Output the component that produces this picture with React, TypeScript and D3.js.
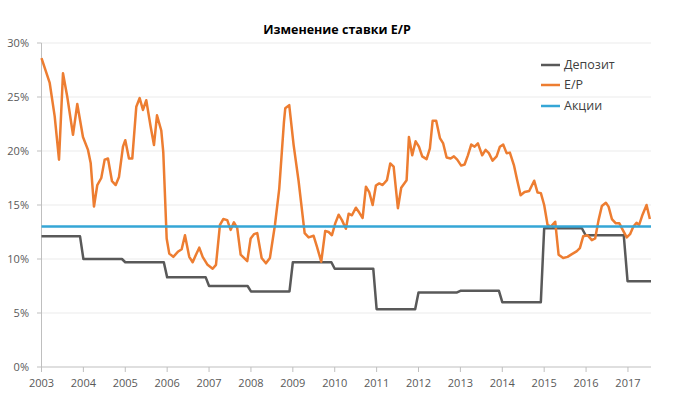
import React from "react";
import * as d3 from "d3";

// ---- data ----
const title = "Изменение ставки Е/Р";
const seriesNames = ["Депозит", "Е/Р", "Акции"];
const yTicks = [0, 5, 10, 15, 20, 25, 30];
const xYears = [2003, 2004, 2005, 2006, 2007, 2008, 2009, 2010, 2011, 2012, 2013, 2014, 2015, 2016, 2017];

// E/P (decimal year, %)
const epDates = [
  2003.0, 2003.196, 2003.315, 2003.418, 2003.513, 2003.616, 2003.752, 2003.854, 2003.99, 2004.11,
  2004.174, 2004.253, 2004.332, 2004.427, 2004.508, 2004.587, 2004.683, 2004.771, 2004.85, 2004.945,
  2005.0, 2005.088, 2005.167, 2005.263, 2005.344, 2005.422, 2005.501, 2005.606, 2005.685, 2005.757,
  2005.859, 2005.907, 2005.988, 2006.05, 2006.146, 2006.265, 2006.346, 2006.425, 2006.527, 2006.609,
  2006.687, 2006.766, 2006.847, 2006.957, 2007.086, 2007.165, 2007.26, 2007.339, 2007.434, 2007.516,
  2007.594, 2007.673, 2007.754, 2007.833, 2007.912, 2007.993, 2008.072, 2008.15, 2008.255, 2008.358,
  2008.453, 2008.573, 2008.675, 2008.788, 2008.819, 2008.914, 2009.019, 2009.138, 2009.282, 2009.377,
  2009.496, 2009.575, 2009.678, 2009.773, 2009.854, 2009.933, 2010.012, 2010.093, 2010.172, 2010.267,
  2010.332, 2010.411, 2010.506, 2010.585, 2010.666, 2010.745, 2010.823, 2010.905, 2010.983, 2011.062,
  2011.143, 2011.246, 2011.325, 2011.406, 2011.508, 2011.587, 2011.716, 2011.771, 2011.85, 2011.931,
  2012.01, 2012.088, 2012.193, 2012.272, 2012.337, 2012.422, 2012.511, 2012.589, 2012.671, 2012.766,
  2012.845, 2012.924, 2013.019, 2013.1, 2013.179, 2013.258, 2013.339, 2013.418, 2013.52, 2013.601,
  2013.68, 2013.768, 2013.864, 2013.943, 2014.021, 2014.103, 2014.181, 2014.277, 2014.356, 2014.437,
  2014.532, 2014.642, 2014.761, 2014.842, 2014.921, 2015.0, 2015.081, 2015.16, 2015.263, 2015.344,
  2015.453, 2015.558, 2015.661, 2015.773, 2015.852, 2015.931, 2016.036, 2016.138, 2016.217, 2016.298,
  2016.377, 2016.473, 2016.537, 2016.616, 2016.711, 2016.795, 2016.875, 2016.971, 2017.05, 2017.129,
  2017.205, 2017.267, 2017.348, 2017.444, 2017.523,
];
const epValues = [
  28.6, 26.3, 23.2, 19.2, 27.2, 25.0, 21.5, 24.35, 21.3, 20.1,
  18.9, 14.85, 16.85, 17.5, 19.2, 19.3, 17.2, 16.85, 17.6, 20.4,
  21.0, 19.3, 19.3, 24.1, 24.9, 23.8, 24.7, 22.25, 20.55, 23.3,
  21.9, 19.9, 11.9, 10.5, 10.2, 10.7, 10.9, 12.2, 10.2, 9.7,
  10.4, 11.05, 10.2, 9.5, 9.1, 9.45, 13.15, 13.7, 13.6, 12.7,
  13.4, 12.85, 10.4, 10.1, 9.8, 11.9, 12.3, 12.4, 10.1, 9.6,
  10.1, 13.15, 16.5, 22.7, 23.95, 24.25, 20.55, 17.2, 12.4, 12.0,
  12.15, 11.15, 9.75, 12.6, 12.5, 12.2, 13.3, 14.1, 13.6, 12.8,
  14.2, 14.05, 14.75, 14.3, 13.8, 16.7, 16.2, 15.0, 16.8, 17.0,
  16.85, 17.3, 18.85, 18.55, 14.7, 16.6, 17.3, 21.3, 19.6, 20.9,
  20.4, 19.5, 19.25, 20.25, 22.8, 22.8, 21.2, 20.7, 19.4, 19.3,
  19.5, 19.2, 18.65, 18.75, 19.6, 20.6, 20.4, 20.7, 19.6, 20.1,
  19.8, 19.1, 19.5, 20.4, 20.6, 19.8, 19.85, 18.7, 17.3, 15.9,
  16.2, 16.3, 17.25, 16.15, 16.1, 15.0, 13.15, 13.0, 13.45, 10.4,
  10.1, 10.2, 10.45, 10.7, 11.0, 12.1, 12.2, 11.75, 11.9, 13.6,
  14.9, 15.2, 14.85, 13.7, 13.3, 13.3, 12.7, 12.0, 12.3, 13.0,
  13.35, 13.15, 14.1, 15.0, 13.7,
];

// Deposit rate (vertices of the step line)
const depDates = [
  2003.0, 2003.92, 2004.0, 2004.92, 2005.0, 2005.92, 2006.0, 2006.92, 2007.0, 2007.92,
  2008.0, 2008.92, 2009.0, 2009.92, 2010.0, 2010.92, 2011.0, 2011.92, 2012.0, 2012.92,
  2013.0, 2013.92, 2014.0, 2014.92, 2015.0, 2015.9, 2015.99, 2016.9, 2016.99, 2017.55,
];
const depValues = [
  12.1, 12.1, 10.0, 10.0, 9.7, 9.7, 8.3, 8.3, 7.5, 7.5,
  7.0, 7.0, 9.7, 9.7, 9.1, 9.1, 5.35, 5.35, 6.9, 6.9,
  7.05, 7.05, 6.0, 6.0, 12.85, 12.85, 12.2, 12.2, 7.95, 7.95,
];

// Stocks (constant)
const stockDates = [2003.0, 2017.55];
const stockValues = [13.0, 13.0];

const colors = ["#595959", "#ED7D31", "#35A6D6"];

const W = 674;
const H = 397;
const FONT = "'Open Sans', 'DejaVu Sans', sans-serif";

export default function App() {
  const x = d3.scaleLinear().domain([2003, 2017.55]).range([41.5, 651]);
  const y = d3.scaleLinear().domain([0, 30]).range([367, 43]);

  const line = d3
    .line<[number, number]>()
    .x((d) => x(d[0]))
    .y((d) => y(d[1]));

  const epPts = epDates.map((d, i) => [d, epValues[i]] as [number, number]);
  const depPts = depDates.map((d, i) => [d, depValues[i]] as [number, number]);
  const stockPts = stockDates.map((d, i) => [d, stockValues[i]] as [number, number]);

  const legendY = [65, 85, 106];

  return (
    <svg
      width={W}
      height={H}
      style={{ position: "absolute", left: 0, top: 0, background: "#fff" }}
      fontFamily={FONT}
    >
      <rect x={0} y={0} width={W} height={H} fill="#fff" />
      <text x={337} y={34} textAnchor="middle" fontSize={12.5} fontWeight="bold" fill="#000">
        {title}
      </text>

      {/* gridlines */}
      {yTicks
        .filter((t) => t > 0)
        .map((t) => (
          <line key={"g" + t} x1={41.5} x2={651} y1={y(t)} y2={y(t)} stroke="#ebebeb" strokeWidth={1} />
        ))}

      {/* y axis */}
      <line x1={41.5} x2={41.5} y1={y(30)} y2={y(0)} stroke="#bfbfbf" strokeWidth={1} />
      {yTicks.map((t) => (
        <g key={"y" + t}>
          <line x1={37} x2={41.5} y1={y(t)} y2={y(t)} stroke="#bfbfbf" />
          <text x={29} y={y(t)} dy="0.35em" textAnchor="end" fontSize={11} fill="#595959">
            {t + "%"}
          </text>
        </g>
      ))}

      {/* x axis */}
      <line x1={41.5} x2={651} y1={y(0)} y2={y(0)} stroke="#bfbfbf" strokeWidth={1} />
      {xYears.map((yr) => (
        <g key={"x" + yr}>
          <line x1={x(yr)} x2={x(yr)} y1={y(0)} y2={y(0) + 5} stroke="#bfbfbf" />
          <text x={x(yr)} y={383} dy="0.35em" textAnchor="middle" fontSize={11} fill="#595959">
            {yr}
          </text>
        </g>
      ))}

      {/* series */}
      <path d={line(depPts) || ""} fill="none" stroke={colors[0]} strokeWidth={2.5} strokeLinejoin="round" />
      <path d={line(epPts) || ""} fill="none" stroke={colors[1]} strokeWidth={2.5} strokeLinejoin="round" />
      <path d={line(stockPts) || ""} fill="none" stroke={colors[2]} strokeWidth={2.5} />

      {/* legend */}
      {seriesNames.map((n, i) => (
        <g key={"l" + i}>
          <line x1={541} x2={560} y1={legendY[i]} y2={legendY[i]} stroke={colors[i]} strokeWidth={2.5} />
          <text x={564} y={legendY[i]} dy="0.35em" fontSize={12.5} fill="#404040">
            {n}
          </text>
        </g>
      ))}
    </svg>
  );
}
